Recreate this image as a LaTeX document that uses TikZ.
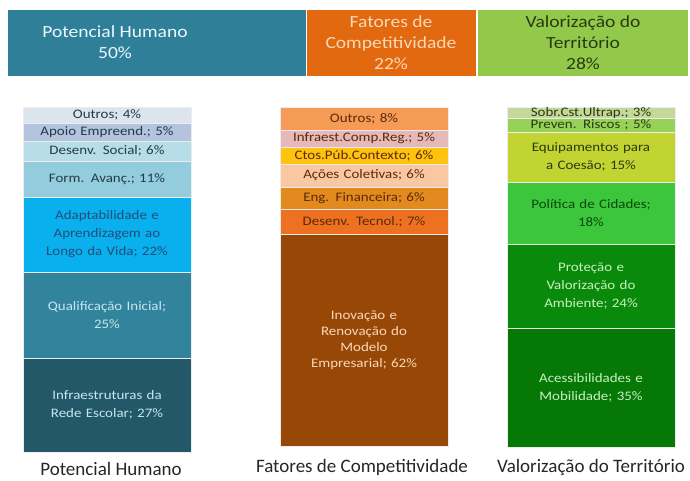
\documentclass[tikz,border=0pt]{standalone}
\usepackage{fontspec}
\setmainfont{Carlito}
\newfontfamily\barfont[FakeStretch=1.15]{Carlito}
\definecolor{phtop}{HTML}{2F7F99}
\definecolor{fctop}{HTML}{E2690F}
\definecolor{vttop}{HTML}{92C94A}
\definecolor{phA}{HTML}{DCE4EE}
\definecolor{phB}{HTML}{B4C3DE}
\definecolor{phC}{HTML}{B7DEE8}
\definecolor{phD}{HTML}{93CDDD}
\definecolor{phE}{HTML}{0AB0EE}
\definecolor{phF}{HTML}{31849B}
\definecolor{phG}{HTML}{225868}
\definecolor{fcA}{HTML}{F59B55}
\definecolor{fcB}{HTML}{E6B9B8}
\definecolor{fcC}{HTML}{FFC20E}
\definecolor{fcD}{HTML}{FAC8A0}
\definecolor{fcE}{HTML}{E28A1E}
\definecolor{fcF}{HTML}{EE7121}
\definecolor{fcG}{HTML}{974806}
\definecolor{vtA}{HTML}{C5D79A}
\definecolor{vtB}{HTML}{96D258}
\definecolor{vtC}{HTML}{C2D431}
\definecolor{vtD}{HTML}{3BC63B}
\definecolor{vtE}{HTML}{0A8A0A}
\definecolor{vtF}{HTML}{067806}
\definecolor{darktxt}{HTML}{253A48}
\definecolor{bluetxt}{HTML}{1F4E79}
\definecolor{cyantxt}{HTML}{C6E6F0}
\definecolor{browntxt}{HTML}{5A2A0A}
\definecolor{peachtxt}{HTML}{FBD8B8}
\definecolor{olivetxt}{HTML}{2A3A10}
\definecolor{greentxt}{HTML}{0A4A0A}
\definecolor{minttxt}{HTML}{C8F0C0}
\begin{document}
\begin{tikzpicture}[x=1pt,y=-1pt,
	seg/.style={draw=white!85!gray,line width=0.7pt,inner sep=0pt,minimum width=168pt,text width=164pt,align=center,font=\barfont\fontsize{13}{18}\selectfont},
	toptext/.style={inner sep=0pt,align=center,font=\barfont\fontsize{17}{21}\selectfont},
	axislbl/.style={inner sep=0pt,anchor=base,font=\fontsize{19}{22}\selectfont,text=black!85}]
	\useasboundingbox (0,0) rectangle (690,480);
	\fill[phtop] (8,10) rectangle (306,76);
	\fill[fctop] (306.5,10) rectangle (476,76);
	\fill[vttop] (477.5,10) rectangle (688,76);
	\node[toptext,text=white!92!cyan] (phtitle) at (115,42) {Potencial Humano\\50\%};
	\node[toptext,text=peachtxt] (fctitle) at (391,43) {Fatores de\\Competitividade\\22\%};
	\node[toptext,text=olivetxt] (vttitle) at (583,43) {Valorização do\\Território\\28\%};
	\node[seg,fill=phA,text=darktxt,minimum height=16pt] (ph1) at (107,115) {Outros; 4\%};
	\node[seg,fill=phB,text=darktxt,minimum height=18pt] (ph2) at (107,132) {Apoio Empreend.; 5\%};
	\node[seg,fill=phC,text=darktxt,minimum height=20pt] (ph3) at (107,151) {Desenv. Social; 6\%};
	\node[seg,fill=phD,text=darktxt,minimum height=36pt] (ph4) at (107,179) {Form. Avanç.; 11\%};
	\node[seg,fill=phE,text=bluetxt,minimum height=75pt] (ph5) at (107,234.5) {Adaptabilidade e\\Aprendizagem ao\\Longo da Vida; 22\%};
	\node[seg,fill=phF,text=cyantxt,minimum height=86pt] (ph6) at (107,315) {Qualificação Inicial;\\25\%};
	\node[seg,fill=phG,text=cyantxt,minimum height=94pt] (ph7) at (107,405) {Infraestruturas da\\Rede Escolar; 27\%};
	\node[seg,fill=fcA,text=browntxt,minimum height=23pt] (fc1) at (364,118.5) {Outros; 8\%};
	\node[seg,fill=fcB,text=browntxt,minimum height=17pt] (fc2) at (364,138.5) {Infraest.Comp.Reg.; 5\%};
	\node[seg,fill=fcC,text=browntxt,minimum height=17pt] (fc3) at (364,155.5) {Ctos.Púb.Contexto; 6\%};
	\node[seg,fill=fcD,text=browntxt,minimum height=23pt] (fc4) at (364,175.5) {Ações Coletivas; 6\%};
	\node[seg,fill=fcE,text=browntxt,minimum height=22pt] (fc5) at (364,198) {Eng. Financeira; 6\%};
	\node[seg,fill=fcF,text=browntxt,minimum height=25pt] (fc6) at (364,221.5) {Desenv. Tecnol.; 7\%};
	\node[seg,fill=fcG,text=peachtxt,minimum height=212pt,font=\barfont\fontsize{13}{16}\selectfont] (fc7) at (364,340) {Inovação e\\Renovação do\\Modelo\\Empresarial; 62\%};
	\node[seg,fill=vtA,text=olivetxt,minimum height=10pt] (vt1) at (591,113) {Sobr.Cst.Ultrap.; 3\%};
	\node[seg,fill=vtB,text=olivetxt,minimum height=14pt] (vt2) at (591,125) {Preven. Riscos ; 5\%};
	\node[seg,fill=vtC,text=olivetxt,minimum height=50pt] (vt3) at (591,157) {Equipamentos para\\a Coesão; 15\%};
	\node[seg,fill=vtD,text=greentxt,minimum height=62pt] (vt4) at (591,213) {Política de Cidades;\\18\%};
	\node[seg,fill=vtE,text=minttxt,minimum height=84pt] (vt5) at (591,286) {Proteção e\\Valorização do\\Ambiente; 24\%};
	\node[seg,fill=vtF,text=minttxt,minimum height=119pt] (vt6) at (591,387.5) {Acessibilidades e\\Mobilidade; 35\%};
	\node[axislbl] (phlbl) at (111,475) {Potencial Humano};
	\node[axislbl] (fclbl) at (362,472) {Fatores de Competitividade};
	\node[axislbl] (vtlbl) at (591,472) {Valorização do Território};
\end{tikzpicture}
\end{document}
